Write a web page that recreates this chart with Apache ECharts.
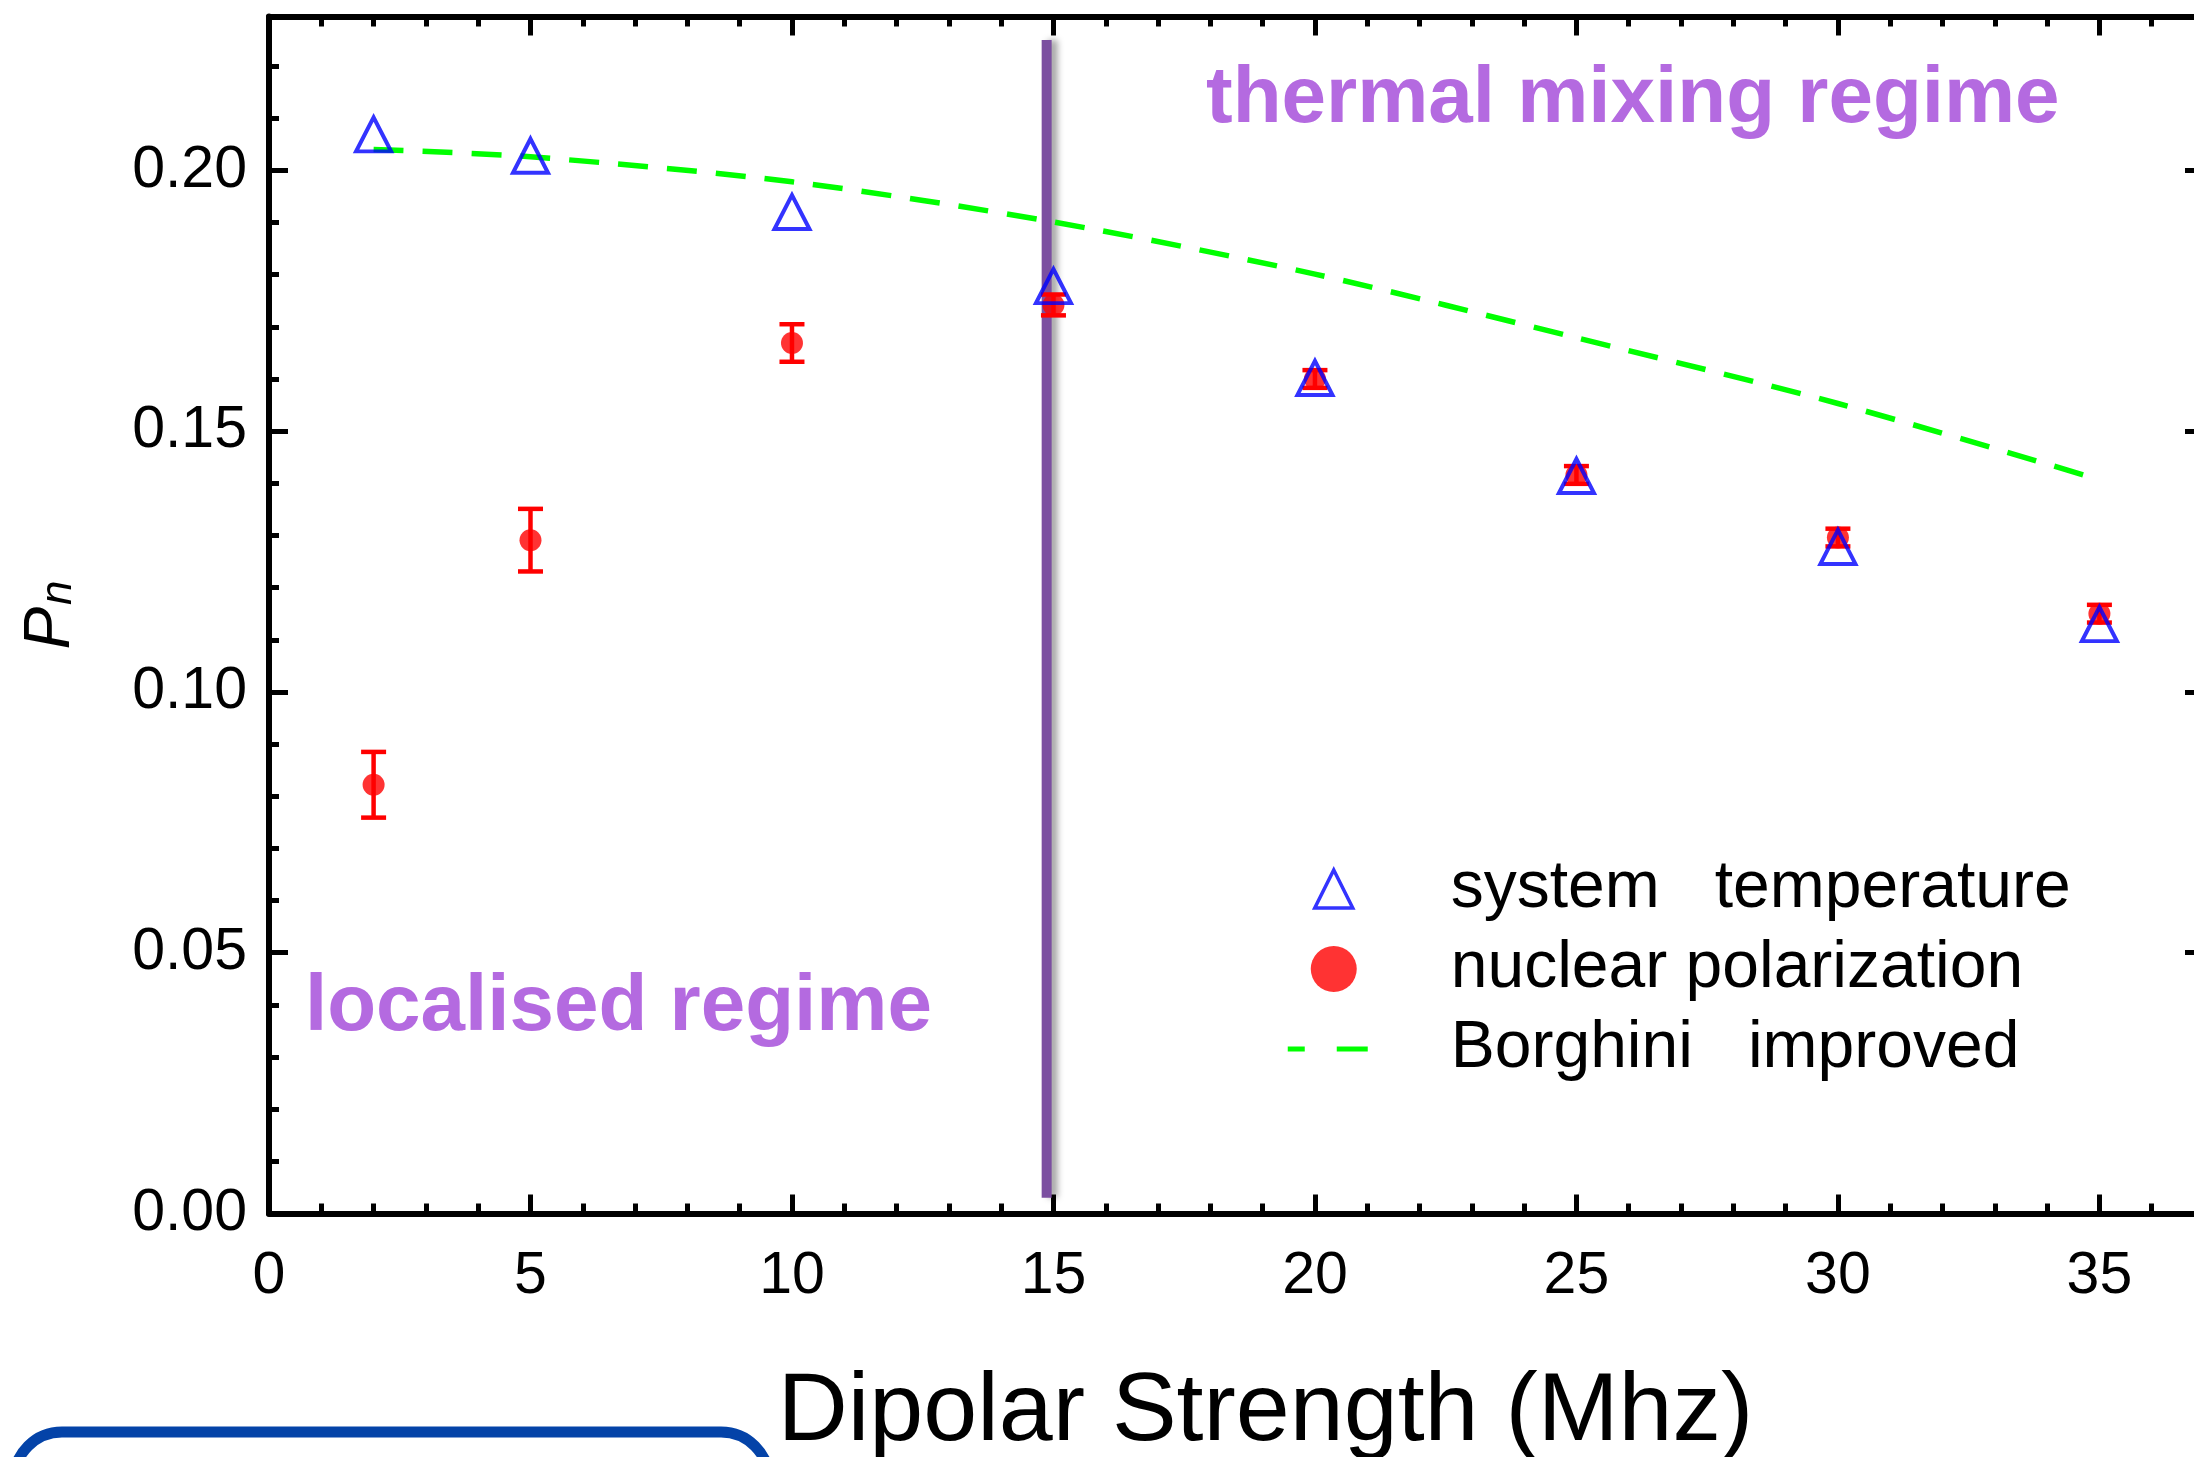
<!DOCTYPE html>
<html><head><meta charset="utf-8">
<script src="https://cdn.jsdelivr.net/npm/echarts@6/dist/echarts.min.js"></script>
<style>html,body{margin:0;padding:0;background:#fff}#c{width:2194px;height:1457px}</style>
</head><body><div id="c"></div>
<script>
// ---- data ----
const xValues = [2, 5, 10, 15, 20, 25, 30, 35];
const systemTemperature = [0.2069, 0.2028, 0.1920, 0.1778, 0.1602, 0.1414, 0.1278, 0.1130];
const nuclearPolarization = [0.0822, 0.1291, 0.1669, 0.1742, 0.1600, 0.1416, 0.1296, 0.1150];
const nuclearError = [0.0063, 0.0060, 0.0036, 0.0020, 0.0017, 0.0017, 0.0017, 0.0017];
const borghiniImproved = [0.2040, 0.2026, 0.1978, 0.1901, 0.1801, 0.1679, 0.1553, 0.1407];
const boundaryX = [14.87, 14.87];
const boundaryY = [0.003, 0.225];
const seriesNames = ['system   temperature', 'nuclear polarization', 'Borghini   improved'];
const xTitle = 'Dipolar Strength (Mhz)';
const annotations = ['thermal mixing regime', 'localised regime'];
const xRange = [0, 37];
const yRange = [0, 0.2295];

const FONT = "'Liberation Sans', Helvetica, Arial, sans-serif";
const chart = echarts.init(document.getElementById('c'), null, {renderer: 'canvas'});

function makeAxis(position, interval, major, extra) {
  const isX = position === 'bottom' || position === 'top';
  const range = isX ? xRange : yRange;
  return Object.assign({
    type: 'value', position: position, min: range[0], max: range[1], interval: interval,
    axisLine: {show: major, onZero: false, lineStyle: {color: '#000', width: 6}},
    axisTick: {show: true, inside: true, length: major ? 19 : 10, lineStyle: {color: '#000', width: 5}},
    axisLabel: {show: false},
    splitLine: {show: false},
    minorTick: {show: false}
  }, extra || {});
}

const option = {
  animation: false,
  backgroundColor: '#fff',
  grid: {left: 269, top: 16.5, width: 1935, bottom: 243.5, containLabel: false, outerBoundsMode: 'none'},
  xAxis: [
    makeAxis('bottom', 5, true, {
      axisLabel: {show: true, fontSize: 59, fontFamily: FONT, color: '#000', margin: 34, showMaxLabel: false},
      name: xTitle, nameLocation: 'middle', nameGap: 151,
      nameTextStyle: {fontSize: 97, fontFamily: FONT, color: '#000', padding: [0, 0, 0, 58]}
    }),
    makeAxis('bottom', 1, false),
    makeAxis('top', 5, true),
    makeAxis('top', 1, false)
  ],
  yAxis: [
    makeAxis('left', 0.05, true, {
      axisLabel: {show: true, fontSize: 59, fontFamily: FONT, color: '#000', margin: 22, showMaxLabel: false,
        formatter: v => v.toFixed(2)},
      name: '{p|P}{s|n}', nameLocation: 'middle', nameGap: 186, nameRotate: 90,
      nameTextStyle: {fontFamily: FONT, color: '#000', rich: {
        p: {fontSize: 64, fontStyle: 'italic', fontFamily: FONT, color: '#000'},
        s: {fontSize: 44, fontStyle: 'italic', fontFamily: FONT, color: '#000', padding: [16, 0, 0, 2]}
      }}
    }),
    makeAxis('left', 0.01, false),
    makeAxis('right', 0.05, true),
    makeAxis('right', 0.01, false)
  ],
  legend: {
    orient: 'vertical', left: 1286, top: 856, padding: 0,
    itemWidth: 92, itemHeight: 46, itemGap: 14, symbolKeepAspect: true, selectedMode: false,
    textStyle: {fontSize: 66, fontFamily: FONT, color: '#000', lineHeight: 66, padding: [0, 0, 0, 66]},
    data: [
      {name: seriesNames[0], icon: 'path://M0,0M92,46M46,4L65,42L27,42Z',
        itemStyle: {color: 'rgba(0,0,0,0)', borderColor: '#0000ff', borderWidth: 3.5}},
      {name: seriesNames[1], icon: 'circle', itemStyle: {color: '#ff0000', borderWidth: 0}},
      {name: seriesNames[2], icon: 'path://M0,0M92,46M0,20.5h17v5h-17zM49,20.5h31v5h-31z',
        itemStyle: {color: '#00ff00', borderWidth: 0}}
    ]
  },
  series: [
    {
      name: 'regime boundary', type: 'line', xAxisIndex: 0, yAxisIndex: 0, z: 1, silent: true,
      symbol: 'none',
      data: boundaryX.map((x, i) => [x, boundaryY[i]]),
      lineStyle: {color: '#7b4fa0', width: 10, shadowColor: 'rgba(0,0,0,0.35)', shadowBlur: 6, shadowOffsetX: 6}
    },
    {
      name: 'nuclear polarization error', type: 'custom', xAxisIndex: 0, yAxisIndex: 0, z: 3,
      data: xValues.map((x, i) => [x, nuclearPolarization[i] - nuclearError[i], nuclearPolarization[i] + nuclearError[i]]),
      encode: {x: 0, y: [1, 2]},
      renderItem: function (params, api) {
        const x = api.value(0);
        const p1 = api.coord([x, api.value(1)]);
        const p2 = api.coord([x, api.value(2)]);
        const hw = 12.5;
        const st = {stroke: '#ff0000', lineWidth: 4.5};
        return {type: 'group', children: [
          {type: 'line', shape: {x1: p1[0], y1: p1[1], x2: p2[0], y2: p2[1]}, style: st},
          {type: 'line', shape: {x1: p1[0] - hw, y1: p1[1], x2: p1[0] + hw, y2: p1[1]}, style: st},
          {type: 'line', shape: {x1: p2[0] - hw, y1: p2[1], x2: p2[0] + hw, y2: p2[1]}, style: st}
        ]};
      }
    },
    {
      name: seriesNames[1], type: 'scatter', xAxisIndex: 0, yAxisIndex: 0, z: 4,
      symbol: 'circle', symbolSize: 22,
      itemStyle: {color: '#ff0000'},
      data: xValues.map((x, i) => [x, nuclearPolarization[i]])
    },
    {
      name: seriesNames[2], type: 'line', xAxisIndex: 0, yAxisIndex: 0, z: 5,
      symbol: 'none', smooth: 0.3,
      lineStyle: {color: '#00ff00', width: 5.5, type: [30, 19]},
      itemStyle: {color: '#00ff00'},
      data: xValues.map((x, i) => [x, borghiniImproved[i]])
    },
    {
      name: seriesNames[0], type: 'scatter', xAxisIndex: 0, yAxisIndex: 0, z: 6,
      symbol: 'triangle', symbolSize: [35, 34],
      itemStyle: {color: 'rgba(0,0,0,0)', borderColor: '#0000ff', borderWidth: 4},
      data: xValues.map((x, i) => [x, systemTemperature[i]])
    }
  ],
  graphic: [
    {type: 'text', x: 1206, y: 100, z: 10, silent: true,
      style: {text: annotations[0], fontSize: 80, fontWeight: 'bold', fontFamily: FONT, fill: '#b46ae0',
        align: 'left', verticalAlign: 'middle'}},
    {type: 'text', x: 305, y: 1008, z: 10, silent: true,
      style: {text: annotations[1], fontSize: 80, fontWeight: 'bold', fontFamily: FONT, fill: '#b46ae0',
        align: 'left', verticalAlign: 'middle'}},
    {type: 'rect', z: 10, silent: true,
      shape: {x: 14, y: 1432, width: 755, height: 200, r: 48},
      style: {fill: 'none', stroke: '#0443a8', lineWidth: 11}}
  ]
};
chart.setOption(option);
</script>
</body></html>
